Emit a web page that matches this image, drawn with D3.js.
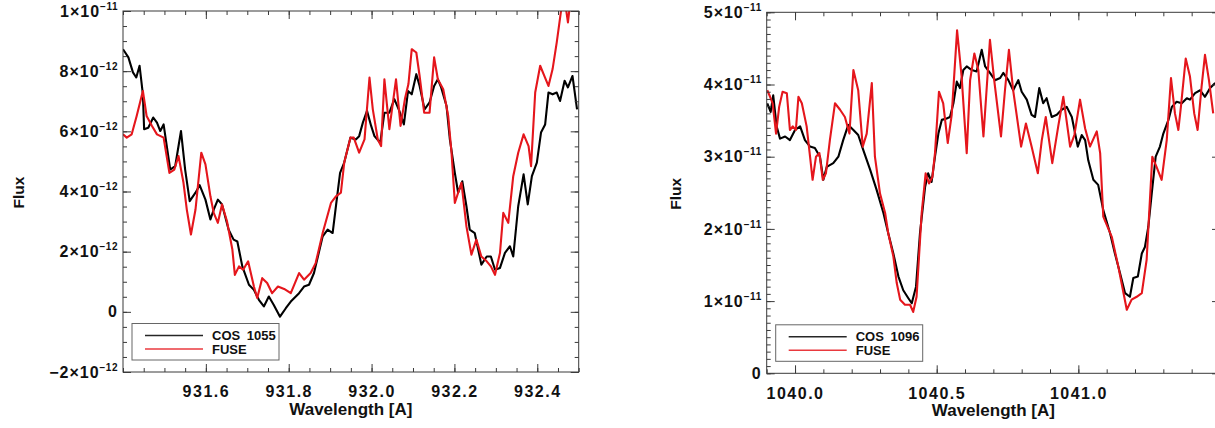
<!DOCTYPE html>
<html><head><meta charset="utf-8">
<script src="https://cdn.jsdelivr.net/npm/d3@7"></script>
<style>
html,body{margin:0;padding:0;background:#fff;overflow:hidden;}
svg{display:block;}
</style></head><body>
<svg id="chart" width="1215" height="428"></svg>
<script>
// ---------------- DATA ----------------
// Left panel: COS 1055 vs FUSE (flux in units of 1e-12)
const cos1055Wave = [931.400,931.413,931.424,931.432,931.440,931.448,931.451,931.461,931.473,931.482,
 931.490,931.498,931.514,931.526,931.540,931.550,931.561,931.575,931.585,931.599,
 931.611,931.619,931.629,931.639,931.655,931.667,931.676,931.688,931.704,931.716,
 931.728,931.740,931.752,931.764,931.779,931.793,931.805,931.825,931.837,931.849,
 931.861,931.882,931.894,931.906,931.914,931.924,931.934,931.949,931.962,931.970,
 931.979,931.989,931.999,932.007,932.021,932.031,932.043,932.055,932.067,932.078,
 932.088,932.097,932.108,932.116,932.128,932.140,932.151,932.160,932.168,932.181,
 932.189,932.201,932.209,932.219,932.229,932.237,932.249,932.265,932.278,932.288,
 932.298,932.310,932.322,932.334,932.342,932.354,932.367,932.377,932.387,932.399,
 932.409,932.419,932.427,932.437,932.447,932.455,932.466,932.474,932.485,932.496];
const cos1055Flux = [8.73,8.46,7.96,7.79,8.18,7.23,6.07,6.12,6.46,6.29,
 6.01,6.23,4.73,4.84,6.01,4.73,3.68,3.96,4.21,3.73,
 3.07,3.40,3.73,3.57,2.73,2.40,2.34,1.51,0.90,0.73,
 0.40,0.18,0.51,0.23,-0.16,0.12,0.34,0.62,0.84,0.90,
 1.29,2.51,2.73,2.62,3.51,4.62,4.96,5.79,5.73,5.84,
 6.29,6.68,6.18,5.84,5.62,6.62,6.62,7.07,6.68,6.23,
 7.34,7.23,7.90,7.51,6.73,6.96,7.51,7.73,7.46,6.84,
 5.73,4.62,3.96,4.34,3.51,2.73,2.62,1.57,1.84,1.84,
 1.40,1.46,1.96,2.18,1.84,3.51,4.57,3.57,4.51,4.96,
 5.96,6.23,7.29,7.23,7.29,7.01,7.68,7.46,7.84,6.73];

const fuseLeftWave = [931.400,931.409,931.421,931.433,931.448,931.457,931.470,931.482,931.498,931.512,
 931.524,931.534,931.546,931.554,931.564,931.575,931.589,931.599,931.611,931.619,
 931.629,931.639,931.651,931.664,931.670,931.680,931.690,931.702,931.716,931.724,
 931.736,931.748,931.760,931.774,931.789,931.805,931.825,931.837,931.853,931.865,
 931.882,931.902,931.914,931.926,931.934,931.949,931.957,931.970,931.983,931.995,
 932.003,932.015,932.023,932.031,932.043,932.059,932.070,932.081,932.089,932.097,
 932.108,932.116,932.127,932.140,932.151,932.160,932.173,932.185,932.193,932.201,
 932.209,932.217,932.229,932.241,932.253,932.265,932.278,932.288,932.298,932.310,
 932.318,932.330,932.342,932.354,932.367,932.379,932.385,932.395,932.407,932.417,
 932.427,932.437,932.447,932.458,932.464,932.474,932.484];
const fuseLeftFlux = [5.90,5.79,5.90,6.51,7.34,6.51,6.18,5.90,5.79,4.62,
 4.73,5.18,4.29,3.40,2.57,3.40,5.29,4.90,3.84,3.29,
 2.96,3.57,3.01,2.07,1.23,1.51,1.40,1.68,0.84,0.46,
 1.12,0.96,0.62,0.84,0.76,0.62,1.29,1.07,1.29,1.62,
 2.62,3.62,3.84,3.96,4.96,5.79,5.79,5.29,5.73,7.79,
 6.73,5.73,5.51,7.73,6.07,7.73,6.18,7.11,7.57,8.73,
 8.62,7.84,6.62,6.62,8.46,7.73,7.40,6.51,5.29,3.62,
 3.96,4.29,2.84,1.90,2.40,1.84,1.68,1.51,1.23,1.96,
 3.29,2.96,4.51,5.29,5.90,5.51,4.84,7.29,8.18,7.84,
 7.51,8.07,8.96,10.07,10.6,9.62,10.8];

// Right panel: COS 1096 vs FUSE (flux in units of 1e-11)
const cos1096Wave = [1039.902,1039.914,1039.923,1039.935,1039.947,1039.965,1039.982,
 1040.000,1040.018,1040.035,1040.053,1040.070,1040.088,1040.100,1040.112,1040.135,1040.153,
 1040.170,1040.188,1040.206,1040.223,1040.241,1040.265,1040.288,1040.312,1040.329,1040.347,
 1040.365,1040.382,1040.400,1040.412,1040.427,
 1040.441,1040.459,1040.470,1040.482,1040.494,1040.506,1040.518,1040.535,1040.547,1040.559,
 1040.571,1040.582,1040.594,1040.606,1040.624,1040.641,1040.659,1040.671,1040.688,1040.706,
 1040.724,1040.735,1040.753,1040.770,1040.788,1040.800,1040.818,1040.835,1040.847,1040.862,
 1040.876,1040.888,1040.906,1040.924,1040.941,1040.959,1040.977,1040.998,
 1041.012,1041.024,1041.035,1041.053,1041.070,1041.088,1041.112,1041.129,1041.147,1041.165,
 1041.182,1041.194,1041.210,1041.224,1041.235,1041.247,1041.259,1041.273,1041.288,1041.300,
 1041.318,1041.330,1041.347,1041.365,1041.383,1041.394,1041.412,1041.430,1041.447,1041.465,
 1041.483];
const cos1096Flux = [3.74,3.62,3.85,3.42,3.25,3.28,3.23,
 3.37,3.42,3.23,3.14,3.12,3.00,2.68,2.86,2.91,3.00,
 3.23,3.44,3.37,3.30,3.09,2.82,2.54,2.22,1.94,1.66,
 1.34,1.15,1.04,0.97,1.20,
 1.94,2.58,2.77,2.65,3.00,3.32,3.51,3.53,3.55,3.74,
 4.04,3.95,4.20,4.25,4.20,4.18,4.48,4.25,4.16,4.06,
 4.09,4.16,4.06,3.92,4.06,3.90,3.79,3.58,3.55,3.95,
 3.74,3.81,3.55,3.58,3.65,3.69,3.55,3.14,
 3.30,3.23,2.95,2.68,2.61,2.26,1.94,1.66,1.39,1.11,
 1.06,1.32,1.34,1.66,1.75,2.03,2.49,3.00,3.14,3.32,
 3.51,3.69,3.76,3.74,3.81,3.79,3.88,3.92,3.83,3.95,
 4.02];

const fuseRightWave = [1039.902,1039.912,1039.921,1039.933,1039.944,1039.956,1039.971,1039.982,1039.992,
 1040.003,1040.012,1040.024,1040.041,1040.053,1040.062,1040.074,1040.086,1040.098,1040.109,
 1040.123,1040.141,1040.159,1040.176,1040.192,1040.206,1040.223,1040.239,1040.253,1040.271,
 1040.282,1040.300,1040.318,1040.329,1040.347,1040.359,1040.371,1040.388,1040.406,1040.417,
 1040.429,
 1040.447,1040.461,1040.473,1040.485,1040.494,1040.508,1040.523,1040.539,1040.553,
 1040.572,1040.588,1040.606,1040.618,1040.633,1040.647,1040.665,1040.688,1040.703,1040.727,
 1040.741,1040.755,1040.770,1040.798,1040.815,1040.835,1040.857,1040.871,1040.885,1040.908,
 1040.929,1040.947,1040.971,1040.986,
 1041.006,1041.024,1041.041,1041.065,1041.077,1041.088,
 1041.118,1041.141,1041.171,1041.188,1041.206,1041.224,1041.241,1041.261,1041.276,1041.294,
 1041.312,1041.327,1041.341,1041.353,1041.362,1041.379,1041.394,1041.409,1041.421,1041.435,
 1041.447,1041.461,1041.476];
const fuseRightFlux = [3.92,3.83,3.74,3.32,3.69,3.90,3.88,3.37,3.42,
 3.37,3.83,3.74,3.42,3.00,2.68,3.00,3.05,2.68,2.77,
 3.23,3.74,3.65,3.55,3.32,4.20,3.92,3.14,3.32,4.02,
 3.00,2.49,2.22,1.94,1.62,1.25,1.02,0.95,0.95,0.85,
 1.06,
 2.22,2.77,2.63,2.72,3.05,3.90,3.74,3.19,3.58,
 4.75,4.11,3.05,4.06,4.43,4.20,3.28,4.62,4.06,3.28,
 3.92,4.48,3.92,3.14,3.46,3.14,2.77,3.23,3.55,2.91,
 3.42,3.83,3.14,3.30,
 3.79,3.39,3.14,3.35,3.05,2.17,
 1.89,1.48,0.88,1.02,1.06,1.11,1.57,3.00,2.86,2.68,
 3.23,4.09,3.60,3.37,3.69,4.36,4.11,3.60,3.37,3.97,
 4.41,4.06,3.60];

// Axis ranges and ticks
const leftXDomain = [931.4, 932.5];
const leftYDomain = [-2, 10];
const leftXTicks = [931.6, 931.8, 932.0, 932.2, 932.4];
const leftXMinorStep = 0.05;
const leftYTicks = [-2, 0, 2, 4, 6, 8, 10];
const leftYTickLabels = [["−2","−12"],["0",""],["2","−12"],["4","−12"],["6","−12"],["8","−12"],["1","−11"]];
const leftYMinorStep = 0.5;

const rightXDomain = [1039.9, 1041.5];
const rightYDomain = [0, 5];
const rightXTicks = [1040.0, 1040.5, 1041.0];
const rightXMinorStep = 0.1;
const rightYTicks = [0, 1, 2, 3, 4, 5];
const rightYTickLabels = [["0",""],["1","−11"],["2","−11"],["3","−11"],["4","−11"],["5","−11"]];
const rightYMinorStep = 0.1;

const seriesNames = [["COS 1055","FUSE"],["COS 1096","FUSE"]];
const xTitle = "Wavelength [A]";
const yTitle = "Flux";

// ---------------- LAYOUT / STYLE ----------------
const FONT = '"Liberation Sans", Arial, Helvetica, sans-serif';
const COS_COLOR = "#000000";
const FUSE_COLOR = "#e5161c";
const AXIS_COLOR = "#3a3a3a";

const panels = [
  {left:123, right:578.7, top:11, bottom:372, yTitleX:19,
   xDomain:leftXDomain, yDomain:leftYDomain, xTicks:leftXTicks, xMinor:leftXMinorStep,
   yTicks:leftYTicks, yLabels:leftYTickLabels, yMinor:leftYMinorStep,
   cos:[cos1055Wave,cos1055Flux], fuse:[fuseLeftWave,fuseLeftFlux], names:seriesNames[0]},
  {left:766.7, right:1220, top:12.3, bottom:373.3, yTitleX:675.5,
   xDomain:rightXDomain, yDomain:rightYDomain, xTicks:rightXTicks, xMinor:rightXMinorStep,
   yTicks:rightYTicks, yLabels:rightYTickLabels, yMinor:rightYMinorStep,
   cos:[cos1096Wave,cos1096Flux], fuse:[fuseRightWave,fuseRightFlux], names:seriesNames[1]}
];

const svg = d3.select("#chart");
svg.append("rect").attr("width",1215).attr("height",428).attr("fill","#fff");

function styleAxis(g){
  g.select(".domain").remove();
  g.attr("font-family", FONT).attr("font-size", 16).attr("font-weight","bold");
  g.selectAll(".tick line").attr("stroke", AXIS_COLOR).attr("stroke-width",1);
  g.selectAll(".tick text").attr("fill","#111");
}

panels.forEach((p, i) => {
  const x = d3.scaleLinear().domain(p.xDomain).range([p.left, p.right]);
  const y = d3.scaleLinear().domain(p.yDomain).range([p.bottom, p.top]);
  const g = svg.append("g");

  const clipId = "clip" + i;
  svg.append("clipPath").attr("id", clipId).append("rect")
    .attr("x", p.left).attr("y", p.top)
    .attr("width", p.right - p.left).attr("height", p.bottom - p.top);

  const line = d3.line().x(d => x(d[0])).y(d => y(d[1]));
  const plot = g.append("g").attr("clip-path", `url(#${clipId})`);
  plot.append("path").datum(d3.zip(p.cos[0], p.cos[1]))
    .attr("d", line).attr("fill","none").attr("stroke", COS_COLOR)
    .attr("stroke-width", 2.1).attr("stroke-linejoin","round");
  plot.append("path").datum(d3.zip(p.fuse[0], p.fuse[1]))
    .attr("d", line).attr("fill","none").attr("stroke", FUSE_COLOR)
    .attr("stroke-width", 2.1).attr("stroke-linejoin","round");

  // minor ticks
  const xMin = d3.range(p.xDomain[0], p.xDomain[1] + 1e-9, p.xMinor);
  const yMin = d3.range(p.yDomain[0], p.yDomain[1] + 1e-9, p.yMinor);
  g.append("g").attr("transform",`translate(0,${p.bottom})`)
    .call(d3.axisBottom(x).tickValues(xMin).tickSizeInner(-4).tickSizeOuter(0).tickFormat("")).call(styleAxis);
  g.append("g").attr("transform",`translate(0,${p.top})`)
    .call(d3.axisTop(x).tickValues(xMin).tickSizeInner(-4).tickSizeOuter(0).tickFormat("")).call(styleAxis);
  g.append("g").attr("transform",`translate(${p.left},0)`)
    .call(d3.axisLeft(y).tickValues(yMin).tickSizeInner(-4).tickSizeOuter(0).tickFormat("")).call(styleAxis);
  g.append("g").attr("transform",`translate(${p.right},0)`)
    .call(d3.axisRight(y).tickValues(yMin).tickSizeInner(-4).tickSizeOuter(0).tickFormat("")).call(styleAxis);

  // major ticks
  const gx = g.append("g").attr("transform",`translate(0,${p.bottom})`)
    .call(d3.axisBottom(x).tickValues(p.xTicks).tickSizeInner(-8).tickSizeOuter(0)
      .tickPadding(14).tickFormat(d3.format(".1f"))).call(styleAxis);
  gx.selectAll(".tick text").attr("letter-spacing","1.5px");
  g.append("g").attr("transform",`translate(0,${p.top})`)
    .call(d3.axisTop(x).tickValues(p.xTicks).tickSizeInner(-8).tickSizeOuter(0).tickFormat("")).call(styleAxis);
  const gy = g.append("g").attr("transform",`translate(${p.left},0)`)
    .call(d3.axisLeft(y).tickValues(p.yTicks).tickSizeInner(-8).tickSizeOuter(0)
      .tickPadding(5).tickFormat((d, k) => p.yLabels[k][0])).call(styleAxis);
  gy.selectAll(".tick text").attr("letter-spacing","1px").each(function(d, k){
    const lab = p.yLabels[k];
    const t = d3.select(this);
    t.text(null);
    if (lab[1]) {
      t.append("tspan").text(lab[0] + "×10");
      t.append("tspan").attr("dy", -7).attr("font-size", 10).attr("letter-spacing","0.5px").text(lab[1]);
    } else {
      t.append("tspan").text(lab[0]);
    }
  });
  g.append("g").attr("transform",`translate(${p.right},0)`)
    .call(d3.axisRight(y).tickValues(p.yTicks).tickSizeInner(-8).tickSizeOuter(0).tickFormat("")).call(styleAxis);

  // box
  g.append("rect").attr("x", p.left).attr("y", p.top)
    .attr("width", p.right - p.left).attr("height", p.bottom - p.top)
    .attr("fill","none").attr("stroke", AXIS_COLOR).attr("stroke-width", 1);

  // titles
  g.append("text").attr("x", (p.left + p.right) / 2).attr("y", p.bottom + 43)
    .attr("text-anchor","middle").attr("font-family", FONT).attr("font-size", 17)
    .attr("font-weight","bold").attr("fill","#111").text(xTitle);
  g.append("text").attr("transform", `translate(${p.yTitleX},${(p.top + p.bottom) / 2 + 1}) rotate(-90)`)
    .attr("text-anchor","middle").attr("dy","0.35em").attr("font-family", FONT).attr("font-size", 15.5)
    .attr("font-weight","bold").attr("fill","#111").text(yTitle);

  // legend
  const lg = g.append("g");
  const lx = p.left + 9, ly = p.bottom - 48.5;
  lg.append("rect").attr("x", lx).attr("y", ly).attr("width", 147).attr("height", 36.5)
    .attr("fill","#fff").attr("stroke","#666").attr("stroke-width",1);
  [[COS_COLOR, p.names[0]], [FUSE_COLOR, p.names[1]]].forEach((it, k) => {
    const yy = p.bottom - 36.5 + k * 13.5;
    lg.append("line").attr("x1", p.left + 22).attr("x2", p.left + 80)
      .attr("y1", yy).attr("y2", yy).attr("stroke", it[0]).attr("stroke-width", 1.4)
      .attr("stroke-opacity", 0.85);
    lg.append("text").attr("x", p.left + 89).attr("y", yy + 4.5)
      .attr("font-family", FONT).attr("font-size", 13).attr("font-weight","bold")
      .attr("word-spacing","3px").attr("fill","#111").text(it[1]);
  });
});
</script>
</body></html>
